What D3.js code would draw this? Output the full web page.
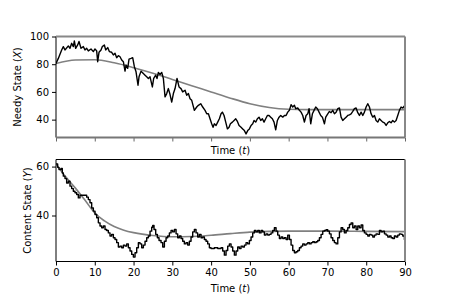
<!DOCTYPE html>
<html>
<head>
<meta charset="utf-8">
<script src="https://cdn.jsdelivr.net/npm/d3@7"></script>
<style>
  body { margin: 0; background: #fff; }
  text { font-family: "DejaVu Sans", sans-serif; font-size: 10px; fill: #000; }
</style>
</head>
<body>
<div id="chart"></div>
<script>
////////////////////////////  Data  ////////////////////////////
const needyTime = [0,0.6,1.46,1.89,2.32,3.18,3.61,4.04,4.47,4.73,5.07,5.59,5.93,6.45,7.05,7.48,7.91,8.34,9.03,9.63,
  10.06,10.49,10.75,11.09,11.61,11.95,12.47,12.81,13.33,13.76,14.36,14.79,15.22,15.65,16.08,16.51,16.94,17.37,17.8,18.06,
  18.49,18.83,19.35,19.78,20.21,20.64,21.15,21.41,21.93,22.53,22.96,23.39,23.82,24.25,24.85,25.19,25.71,26.05,26.4,26.83,
  27.26,27.69,28.12,28.55,28.98,29.41,29.84,30.27,30.7,31.21,31.73,32.24,32.67,33.28,33.71,34.14,34.57,35,35.68,36.29,
  36.72,37.32,37.83,38.44,38.87,39.3,39.72,40.15,40.5,40.84,41.27,41.7,42.13,42.56,42.91,43.34,43.77,44.2,44.63,44.97,
  45.49,45.92,46.35,46.78,47.21,47.72,48.15,48.58,49.01,49.44,49.87,50.3,50.73,51.07,51.5,51.93,52.36,52.79,53.22,53.65,
  54.08,54.51,54.94,55.37,55.8,56.23,56.66,57.09,57.52,57.95,58.47,58.9,59.33,59.76,60.19,60.62,61.05,61.48,61.82,62.34,
  62.77,63.2,63.63,64.06,64.49,64.92,65.26,65.69,66.12,66.55,66.98,67.41,67.84,68.27,68.7,69.22,69.56,70.08,70.51,70.94,
  71.37,71.8,72.23,72.66,73.09,73.52,73.95,74.38,74.81,75.24,75.67,76.1,76.53,76.96,77.39,77.82,78.25,78.68,79.11,79.54,
  79.97,80.4,80.83,81.26,81.69,82.12,82.55,82.98,83.41,83.84,84.27,84.7,85.13,85.56,85.99,86.41,86.84,87.27,87.7,88.13,
  88.56,88.99,89.42,89.85];
const needyState = [80.6,84.2,90.3,92.7,90.3,93.2,91.5,95.1,92.7,96.8,91.5,93.9,96.4,91.5,92.7,90.3,91.5,89.6,91.0,89.1,
  91.0,89.6,81.8,88.6,90.3,92.7,93.9,90.3,92.0,89.1,88.6,86.7,87.9,84.7,86.2,85.4,83.0,81.8,75.0,79.4,
  77.0,83.7,84.2,84.7,78.2,74.5,64.8,70.9,75.0,73.3,72.1,70.9,69.7,70.9,63.6,69.7,72.1,69.7,74.1,72.6,
  74.1,69.7,56.4,58.8,62.4,58.1,52.7,58.8,62.4,69.7,63.6,62.4,60.0,61.2,57.6,58.8,55.1,53.9,46.7,49.1,
  50.3,51.5,49.1,46.7,44.2,44.2,40.6,37.0,34.5,37.0,35.8,38.2,40.6,44.2,45.4,43.0,38.2,33.3,34.5,37.0,
  38.2,39.4,40.6,38.7,35.8,34.5,33.3,32.1,29.7,32.1,33.3,35.8,37.0,39.4,38.2,40.6,41.8,39.4,40.6,38.2,
  40.6,43.0,43.0,41.8,40.6,38.2,32.6,39.4,41.8,43.0,41.8,43.0,43.0,45.4,46.7,50.8,49.1,50.3,47.9,48.4,
  46.7,45.4,43.0,38.2,43.0,44.2,47.9,37.0,44.2,46.7,49.1,47.9,45.4,43.0,41.8,37.0,41.8,44.2,45.9,45.0,
  46.7,44.2,45.4,47.9,48.4,41.8,39.4,40.6,41.8,43.0,43.5,44.2,45.9,47.9,48.4,45.0,43.0,45.4,43.0,45.4,
  49.1,51.5,49.1,44.2,41.8,43.0,39.4,38.2,40.6,39.4,38.2,37.7,35.8,37.7,38.7,37.7,39.4,38.2,39.4,43.0,
  46.7,49.1,48.4,49.8];

const needyMeanTime = [0,5,10,15,20,25,30,35,40,45,50,55,60,65,70,75,80,85,90];
const needyMean = [80.5,83,83.2,81,77.5,73.5,69,64.5,60,55.5,51.5,48.8,47.5,47.2,47.2,47.2,47.2,47.2,47.2];

const contentTime = [0,0.43,0.77,1.29,1.63,1.89,2.32,2.75,3.18,3.61,4.04,4.47,4.9,5.33,5.76,6.19,7.48,7.91,8.34,8.77,
  9.2,9.63,10.06,10.49,10.92,11.35,11.78,12.21,12.64,13.07,13.5,13.93,14.36,14.79,15.22,15.65,16.08,16.51,16.94,17.37,
  17.8,18.23,18.66,19.09,19.52,19.95,20.38,20.81,21.24,21.67,22.1,22.53,22.96,23.39,23.82,24.25,24.68,24.94,25.28,25.71,
  26.14,26.57,27.09,27.52,27.95,28.38,28.81,29.24,29.67,30.1,30.53,30.96,31.38,31.81,32.24,32.67,33.1,33.53,33.96,34.39,
  34.82,35.25,35.68,36.11,36.54,36.97,37.4,37.83,38.26,38.69,39.12,39.55,39.98,40.84,41.7,42.56,42.99,43.42,43.85,44.28,
  44.71,45.14,45.57,46,46.43,46.86,47.29,47.72,48.15,48.58,49.01,49.44,49.87,50.3,50.73,51.16,51.59,52.02,52.45,52.88,
  53.31,53.74,54.17,54.6,55.03,55.46,55.89,56.32,56.75,57.18,57.61,58.04,58.47,58.9,59.33,59.76,60.19,60.62,61.05,61.48,
  61.91,62.34,62.77,63.2,63.63,64.06,64.49,64.92,65.35,65.78,66.21,66.64,67.07,67.5,67.93,68.36,68.79,69.22,69.65,70.08,
  70.51,70.94,71.37,71.8,72.23,72.66,73.09,73.52,73.95,74.38,74.81,75.24,75.67,76.1,76.53,76.96,77.39,77.82,78.25,78.68,
  79.11,79.54,79.97,80.4,80.83,81.26,81.69,82.12,82.55,82.98,83.41,83.84,84.27,84.7,85.13,85.56,86.01,86.41,86.84,87.27,
  87.7,88.13,88.56,88.99,89.42,89.85,90];
const contentState = [61.1,59.7,58.8,59.2,57.4,56.1,55.1,53.3,54.0,52.0,51.0,49.9,49.3,48.6,47.2,48.3,48.3,47.5,46.5,45.2,
  43.1,41.8,40.4,39.1,37.0,35.7,35.0,35.7,34.3,33.9,32.9,31.6,32.3,30.9,30.2,28.9,27.1,27.5,26.8,27.9,
  27.5,28.4,26.8,25.5,24.1,23.0,24.8,26.8,28.9,28.4,26.8,27.9,29.5,30.9,31.6,33.6,35.2,35.9,34.3,32.3,
  30.9,29.8,28.9,27.1,29.5,30.9,31.6,32.9,33.9,33.3,34.3,32.5,30.9,31.6,30.6,29.5,28.4,28.9,27.9,29.5,
  31.2,33.3,34.3,32.9,31.2,32.3,30.9,31.2,30.2,29.5,28.4,26.8,26.5,26.8,26.5,26.8,25.5,23.8,25.7,27.5,
  28.4,27.1,25.5,23.8,25.5,27.1,26.5,27.5,27.1,27.9,28.9,28.4,29.8,31.2,32.9,33.9,33.3,33.9,32.9,33.9,
  33.3,32.0,32.5,32.0,32.3,32.9,33.9,35.0,33.6,32.0,30.6,31.2,30.6,30.9,30.2,32.0,30.2,27.9,25.7,24.8,
  25.2,25.7,26.8,27.5,28.4,27.9,28.4,28.9,28.4,28.9,29.3,28.9,29.3,29.8,30.9,32.3,33.6,33.9,34.2,33.6,
  32.5,30.9,29.8,28.9,28.4,30.9,33.3,35.0,34.3,32.9,33.9,35.0,36.3,37.0,35.0,35.7,34.3,35.7,35.0,36.1,
  33.9,32.9,32.3,31.6,32.3,32.0,31.2,32.0,32.5,32.3,33.9,33.3,33.6,32.5,32.0,31.2,31.6,30.9,30.6,31.6,
  31.2,32.0,32.5,32.3,31.6,30.2,30.2];

const contentMeanTime = [0,2.5,5,7.5,10,12.5,15,17.5,20,25,30,35,40,45,50,60,70,80,90];
const contentMean = [61.1,55.8,51.2,46.2,41.0,37.8,35.5,34.0,33.0,31.8,31.3,31.4,31.9,32.6,33.2,33.6,33.6,33.5,33.4];

const xTicks = [0,10,20,30,40,50,60,70,80,90];
const needyTicks = [40,60,80,100];
const contentTicks = [40,60];

////////////////////////////  Init  ////////////////////////////
const width = 450;
const height = 300;
const svg = d3.select("#chart").append("svg").attr("width", width).attr("height", height);

const left = 56, right = 405;
const xScale = d3.scaleLinear().domain([0, 90]).range([left, right]);

const panels = [
  { top: 36.5, bottom: 137.5, domain: [27.1, 100], ticks: needyTicks, label: "Needy State (", sym: "X",
    labelX: 17, showX: false, time: needyTime, vals: needyState, curve: d3.curveLinear,
    mTime: needyMeanTime, mVals: needyMean, spines: { top: "#888", right: "#888", bottom: "#777" } },
  { top: 159.5, bottom: 261.5, domain: [21.2, 62.9], ticks: contentTicks, label: "Content State (", sym: "Y",
    labelX: 27, showX: true, time: contentTime, vals: contentState, curve: d3.curveStepAfter,
    mTime: contentMeanTime, mVals: contentMean, spines: { top: "#000", right: "#888", bottom: "#000" } }
];

panels.forEach((p, k) => {
  const yScale = d3.scaleLinear().domain(p.domain).range([p.bottom, p.top]);
  const g = svg.append("g");

  g.append("clipPath").attr("id", "clip" + k)
    .append("rect").attr("x", left).attr("y", p.top).attr("width", right - left).attr("height", p.bottom - p.top);

  // mean (gray) curve
  const meanLine = d3.line().x((d, i) => xScale(p.mTime[i])).y((d) => yScale(d)).curve(d3.curveMonotoneX);
  g.append("path").attr("d", meanLine(p.mVals))
    .attr("fill", "none").attr("stroke", "#808080").attr("stroke-width", 1.6)
    .attr("clip-path", `url(#clip${k})`);

  // simulated path
  const pathLine = d3.line().x((d, i) => xScale(p.time[i])).y((d) => yScale(d)).curve(p.curve);
  g.append("path").attr("d", pathLine(p.vals))
    .attr("fill", "none").attr("stroke", "#000").attr("stroke-width", 1.4).attr("stroke-linejoin", "round")
    .attr("clip-path", `url(#clip${k})`);

  // axes
  const yAxis = d3.axisLeft(yScale).tickValues(p.ticks).tickSize(4).tickPadding(3);
  const ya = g.append("g").attr("transform", `translate(${left},0)`).call(yAxis);
  ya.select(".domain").remove();
  ya.selectAll("text").attr("font-family", null).attr("font-size", null);

  const xAxis = d3.axisBottom(xScale).tickValues(xTicks).tickSize(4).tickPadding(3)
    .tickFormat(p.showX ? d3.format("d") : () => "");
  const xa = g.append("g").attr("transform", `translate(0,${p.bottom})`).call(xAxis);
  xa.select(".domain").remove();
  xa.selectAll("line").attr("stroke", p.showX ? "#000" : "#666");
  xa.selectAll("text").attr("font-family", null).attr("font-size", null);

  // spines
  g.append("line").attr("x1", left).attr("x2", left).attr("y1", p.top).attr("y2", p.bottom)
    .attr("stroke", "#000").attr("stroke-width", 1);
  g.append("line").attr("x1", left).attr("x2", right).attr("y1", p.top).attr("y2", p.top)
    .attr("stroke", p.spines.top).attr("stroke-width", p.spines.top === "#000" ? 1 : 2);
  g.append("line").attr("x1", right).attr("x2", right).attr("y1", p.top).attr("y2", p.bottom)
    .attr("stroke", p.spines.right).attr("stroke-width", 2);
  g.append("line").attr("x1", left).attr("x2", right).attr("y1", p.bottom).attr("y2", p.bottom)
    .attr("stroke", p.spines.bottom).attr("stroke-width", p.spines.bottom === "#000" ? 1 : 2);

  // units
  const yUnit = g.append("text")
    .attr("transform", `translate(${p.labelX},${(p.top + p.bottom) / 2}) rotate(-90)`)
    .attr("text-anchor", "middle").attr("dy", "0.35em");
  yUnit.append("tspan").text(p.label);
  yUnit.append("tspan").attr("font-style", "italic").text(p.sym);
  yUnit.append("tspan").text(")");

  const xUnit = g.append("text")
    .attr("x", (left + right) / 2)
    .attr("y", p.showX ? p.bottom + 30 : p.bottom + 16)
    .attr("text-anchor", "middle");
  xUnit.append("tspan").text("Time (");
  xUnit.append("tspan").attr("font-style", "italic").text("t");
  xUnit.append("tspan").text(")");
});
</script>
</body>
</html>
